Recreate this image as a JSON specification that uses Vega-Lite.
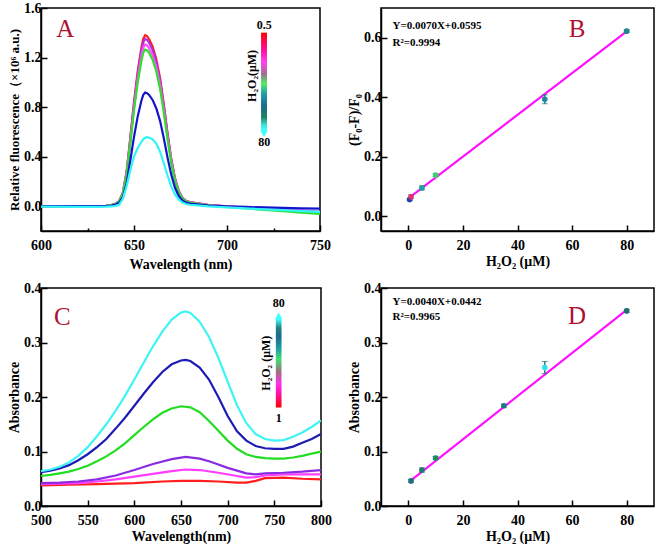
{
"$schema": "https://vega.github.io/schema/vega-lite/v6.json",
"background": "white",
"padding": {"left": 6, "top": 0, "right": 2, "bottom": 0},
"bounds": "flush",
"columns": 2,
"align": "each",
"spacing": {"row": 57, "column": 60},
"resolve": {"scale": {"color": "independent"}},
"config": {
  "font": "Liberation Serif",
  "view": {"stroke": "#000", "strokeWidth": 1.5},
  "axis": {"labelFont": "Liberation Serif", "labelFontWeight": "bold", "labelFontSize": 14, "labelColor": "#000",
           "titleFont": "Liberation Serif", "titleFontWeight": "bold", "titleFontSize": 14, "titleColor": "#000",
           "domainColor": "#000", "domainWidth": 1.5, "tickColor": "#000", "tickWidth": 1.5, "grid": false,
           "labelPadding": 4, "labelFlush": false, "labelOverlap": false, "titlePadding": 2},
  "axisX": {"labelPadding": 13},
  "axisY": {"labelPadding": 6}
},
"datasets": {
  "A": [
{"s":"a1","x":600,"y":0},{"s":"a1","x":620,"y":0},{"s":"a1","x":630,"y":0.001},{"s":"a1","x":635,"y":0.004},{"s":"a1","x":638,"y":0.01},{"s":"a1","x":640,"y":0.019},{"s":"a1","x":642,"y":0.041},{"s":"a1","x":644,"y":0.11},{"s":"a1","x":646,"y":0.276},{"s":"a1","x":648,"y":0.552},{"s":"a1","x":650,"y":0.842},{"s":"a1","x":652,"y":1.09},{"s":"a1","x":654,"y":1.283},{"s":"a1","x":655,"y":1.352},{"s":"a1","x":656,"y":1.38},{"s":"a1","x":657,"y":1.373},{"s":"a1","x":658,"y":1.352},{"s":"a1","x":660,"y":1.29},{"s":"a1","x":662,"y":1.187},{"s":"a1","x":664,"y":1.035},{"s":"a1","x":666,"y":0.828},{"s":"a1","x":668,"y":0.593},{"s":"a1","x":670,"y":0.386},{"s":"a1","x":672,"y":0.228},{"s":"a1","x":674,"y":0.124},{"s":"a1","x":676,"y":0.069},{"s":"a1","x":678,"y":0.044},{"s":"a1","x":680,"y":0.033},{"s":"a1","x":690,"y":0.012},{"s":"a1","x":700,"y":0},{"s":"a1","x":710,"y":-0.012},{"s":"a1","x":720,"y":-0.022},{"s":"a1","x":730,"y":-0.033},{"s":"a1","x":740,"y":-0.044},{"s":"a1","x":750,"y":-0.055},
{"s":"a2","x":600,"y":0},{"s":"a2","x":620,"y":0},{"s":"a2","x":630,"y":0.001},{"s":"a2","x":635,"y":0.004},{"s":"a2","x":638,"y":0.009},{"s":"a2","x":640,"y":0.019},{"s":"a2","x":642,"y":0.041},{"s":"a2","x":644,"y":0.108},{"s":"a2","x":646,"y":0.27},{"s":"a2","x":648,"y":0.54},{"s":"a2","x":650,"y":0.824},{"s":"a2","x":652,"y":1.067},{"s":"a2","x":654,"y":1.256},{"s":"a2","x":655,"y":1.323},{"s":"a2","x":656,"y":1.35},{"s":"a2","x":657,"y":1.343},{"s":"a2","x":658,"y":1.323},{"s":"a2","x":660,"y":1.262},{"s":"a2","x":662,"y":1.161},{"s":"a2","x":664,"y":1.013},{"s":"a2","x":666,"y":0.81},{"s":"a2","x":668,"y":0.581},{"s":"a2","x":670,"y":0.378},{"s":"a2","x":672,"y":0.223},{"s":"a2","x":674,"y":0.122},{"s":"a2","x":676,"y":0.068},{"s":"a2","x":678,"y":0.043},{"s":"a2","x":680,"y":0.032},{"s":"a2","x":690,"y":0.01},{"s":"a2","x":700,"y":-0.002},{"s":"a2","x":710,"y":-0.012},{"s":"a2","x":720,"y":-0.02},{"s":"a2","x":730,"y":-0.028},{"s":"a2","x":740,"y":-0.036},{"s":"a2","x":750,"y":-0.045},
{"s":"a3","x":600,"y":0},{"s":"a3","x":620,"y":0},{"s":"a3","x":630,"y":0.001},{"s":"a3","x":635,"y":0.004},{"s":"a3","x":638,"y":0.009},{"s":"a3","x":640,"y":0.018},{"s":"a3","x":642,"y":0.039},{"s":"a3","x":644,"y":0.104},{"s":"a3","x":646,"y":0.261},{"s":"a3","x":648,"y":0.522},{"s":"a3","x":650,"y":0.796},{"s":"a3","x":652,"y":1.031},{"s":"a3","x":654,"y":1.214},{"s":"a3","x":655,"y":1.279},{"s":"a3","x":656,"y":1.305},{"s":"a3","x":657,"y":1.298},{"s":"a3","x":658,"y":1.279},{"s":"a3","x":660,"y":1.22},{"s":"a3","x":662,"y":1.122},{"s":"a3","x":664,"y":0.979},{"s":"a3","x":666,"y":0.783},{"s":"a3","x":668,"y":0.561},{"s":"a3","x":670,"y":0.365},{"s":"a3","x":672,"y":0.215},{"s":"a3","x":674,"y":0.117},{"s":"a3","x":676,"y":0.065},{"s":"a3","x":678,"y":0.042},{"s":"a3","x":680,"y":0.031},{"s":"a3","x":690,"y":0.01},{"s":"a3","x":700,"y":-0.002},{"s":"a3","x":710,"y":-0.013},{"s":"a3","x":720,"y":-0.022},{"s":"a3","x":730,"y":-0.031},{"s":"a3","x":740,"y":-0.04},{"s":"a3","x":750,"y":-0.05},
{"s":"a4","x":600,"y":0},{"s":"a4","x":620,"y":0},{"s":"a4","x":630,"y":0.001},{"s":"a4","x":635,"y":0.004},{"s":"a4","x":638,"y":0.009},{"s":"a4","x":640,"y":0.018},{"s":"a4","x":642,"y":0.038},{"s":"a4","x":644,"y":0.101},{"s":"a4","x":646,"y":0.253},{"s":"a4","x":648,"y":0.506},{"s":"a4","x":650,"y":0.772},{"s":"a4","x":652,"y":0.999},{"s":"a4","x":654,"y":1.176},{"s":"a4","x":655,"y":1.24},{"s":"a4","x":656,"y":1.265},{"s":"a4","x":657,"y":1.259},{"s":"a4","x":658,"y":1.24},{"s":"a4","x":660,"y":1.183},{"s":"a4","x":662,"y":1.088},{"s":"a4","x":664,"y":0.949},{"s":"a4","x":666,"y":0.759},{"s":"a4","x":668,"y":0.544},{"s":"a4","x":670,"y":0.354},{"s":"a4","x":672,"y":0.209},{"s":"a4","x":674,"y":0.114},{"s":"a4","x":676,"y":0.063},{"s":"a4","x":678,"y":0.04},{"s":"a4","x":680,"y":0.03},{"s":"a4","x":690,"y":0.008},{"s":"a4","x":700,"y":-0.006},{"s":"a4","x":710,"y":-0.018},{"s":"a4","x":720,"y":-0.029},{"s":"a4","x":730,"y":-0.04},{"s":"a4","x":740,"y":-0.051},{"s":"a4","x":750,"y":-0.062},
{"s":"a5","x":600,"y":0},{"s":"a5","x":620,"y":0},{"s":"a5","x":630,"y":0.001},{"s":"a5","x":635,"y":0.003},{"s":"a5","x":638,"y":0.006},{"s":"a5","x":640,"y":0.013},{"s":"a5","x":642,"y":0.028},{"s":"a5","x":644,"y":0.073},{"s":"a5","x":646,"y":0.184},{"s":"a5","x":648,"y":0.367},{"s":"a5","x":650,"y":0.56},{"s":"a5","x":652,"y":0.725},{"s":"a5","x":654,"y":0.854},{"s":"a5","x":655,"y":0.9},{"s":"a5","x":656,"y":0.918},{"s":"a5","x":657,"y":0.913},{"s":"a5","x":658,"y":0.9},{"s":"a5","x":660,"y":0.858},{"s":"a5","x":662,"y":0.789},{"s":"a5","x":664,"y":0.689},{"s":"a5","x":666,"y":0.551},{"s":"a5","x":668,"y":0.395},{"s":"a5","x":670,"y":0.257},{"s":"a5","x":672,"y":0.151},{"s":"a5","x":674,"y":0.083},{"s":"a5","x":676,"y":0.046},{"s":"a5","x":678,"y":0.029},{"s":"a5","x":680,"y":0.022},{"s":"a5","x":690,"y":0.006},{"s":"a5","x":700,"y":-0.002},{"s":"a5","x":710,"y":-0.006},{"s":"a5","x":720,"y":-0.01},{"s":"a5","x":730,"y":-0.013},{"s":"a5","x":740,"y":-0.017},{"s":"a5","x":750,"y":-0.02},
{"s":"a6","x":600,"y":-0.004},{"s":"a6","x":620,"y":-0.005},{"s":"a6","x":630,"y":-0.005},{"s":"a6","x":635,"y":-0.004},{"s":"a6","x":638,"y":-0.002},{"s":"a6","x":640,"y":0.003},{"s":"a6","x":642,"y":0.012},{"s":"a6","x":644,"y":0.06},{"s":"a6","x":646,"y":0.16},{"s":"a6","x":648,"y":0.29},{"s":"a6","x":650,"y":0.4},{"s":"a6","x":652,"y":0.47},{"s":"a6","x":654,"y":0.52},{"s":"a6","x":655,"y":0.54},{"s":"a6","x":656,"y":0.553},{"s":"a6","x":657,"y":0.557},{"s":"a6","x":658,"y":0.555},{"s":"a6","x":660,"y":0.54},{"s":"a6","x":662,"y":0.505},{"s":"a6","x":664,"y":0.44},{"s":"a6","x":666,"y":0.35},{"s":"a6","x":668,"y":0.25},{"s":"a6","x":670,"y":0.16},{"s":"a6","x":672,"y":0.095},{"s":"a6","x":674,"y":0.055},{"s":"a6","x":676,"y":0.03},{"s":"a6","x":678,"y":0.018},{"s":"a6","x":680,"y":0.012},{"s":"a6","x":690,"y":-0.002},{"s":"a6","x":700,"y":-0.01},{"s":"a6","x":710,"y":-0.018},{"s":"a6","x":720,"y":-0.025},{"s":"a6","x":730,"y":-0.032},{"s":"a6","x":740,"y":-0.039},{"s":"a6","x":750,"y":-0.046}
  ],
  "C": [
{"s":"c1","x":500,"y":0.038},{"s":"c1","x":530,"y":0.039},{"s":"c1","x":560,"y":0.04},{"s":"c1","x":600,"y":0.042},{"s":"c1","x":630,"y":0.045},{"s":"c1","x":650,"y":0.046},{"s":"c1","x":670,"y":0.046},{"s":"c1","x":690,"y":0.045},{"s":"c1","x":710,"y":0.043},{"s":"c1","x":720,"y":0.043},{"s":"c1","x":730,"y":0.046},{"s":"c1","x":740,"y":0.051},{"s":"c1","x":760,"y":0.052},{"s":"c1","x":780,"y":0.05},{"s":"c1","x":800,"y":0.049},
{"s":"c2","x":500,"y":0.04},{"s":"c2","x":520,"y":0.041},{"s":"c2","x":540,"y":0.042},{"s":"c2","x":560,"y":0.045},{"s":"c2","x":580,"y":0.049},{"s":"c2","x":600,"y":0.054},{"s":"c2","x":620,"y":0.059},{"s":"c2","x":640,"y":0.064},{"s":"c2","x":655,"y":0.067},{"s":"c2","x":670,"y":0.066},{"s":"c2","x":690,"y":0.061},{"s":"c2","x":710,"y":0.055},{"s":"c2","x":720,"y":0.052},{"s":"c2","x":730,"y":0.053},{"s":"c2","x":740,"y":0.056},{"s":"c2","x":760,"y":0.058},{"s":"c2","x":780,"y":0.058},{"s":"c2","x":800,"y":0.058},
{"s":"c3","x":500,"y":0.042},{"s":"c3","x":520,"y":0.043},{"s":"c3","x":540,"y":0.045},{"s":"c3","x":560,"y":0.049},{"s":"c3","x":580,"y":0.056},{"s":"c3","x":600,"y":0.066},{"s":"c3","x":620,"y":0.077},{"s":"c3","x":640,"y":0.086},{"s":"c3","x":655,"y":0.09},{"s":"c3","x":670,"y":0.087},{"s":"c3","x":680,"y":0.082},{"s":"c3","x":690,"y":0.076},{"s":"c3","x":700,"y":0.07},{"s":"c3","x":710,"y":0.065},{"s":"c3","x":720,"y":0.06},{"s":"c3","x":730,"y":0.058},{"s":"c3","x":740,"y":0.06},{"s":"c3","x":760,"y":0.061},{"s":"c3","x":780,"y":0.063},{"s":"c3","x":800,"y":0.066},
{"s":"c4","x":500,"y":0.055},{"s":"c4","x":510,"y":0.057},{"s":"c4","x":520,"y":0.06},{"s":"c4","x":530,"y":0.063},{"s":"c4","x":540,"y":0.068},{"s":"c4","x":550,"y":0.074},{"s":"c4","x":560,"y":0.082},{"s":"c4","x":570,"y":0.091},{"s":"c4","x":580,"y":0.102},{"s":"c4","x":590,"y":0.115},{"s":"c4","x":600,"y":0.13},{"s":"c4","x":610,"y":0.145},{"s":"c4","x":620,"y":0.159},{"s":"c4","x":630,"y":0.171},{"s":"c4","x":640,"y":0.179},{"s":"c4","x":650,"y":0.183},{"s":"c4","x":660,"y":0.181},{"s":"c4","x":670,"y":0.172},{"s":"c4","x":680,"y":0.156},{"s":"c4","x":690,"y":0.138},{"s":"c4","x":700,"y":0.12},{"s":"c4","x":710,"y":0.105},{"s":"c4","x":720,"y":0.095},{"s":"c4","x":730,"y":0.09},{"s":"c4","x":740,"y":0.088},{"s":"c4","x":750,"y":0.087},{"s":"c4","x":760,"y":0.087},{"s":"c4","x":770,"y":0.089},{"s":"c4","x":780,"y":0.092},{"s":"c4","x":790,"y":0.096},{"s":"c4","x":800,"y":0.1},
{"s":"c5","x":500,"y":0.062},{"s":"c5","x":510,"y":0.065},{"s":"c5","x":520,"y":0.069},{"s":"c5","x":530,"y":0.075},{"s":"c5","x":540,"y":0.084},{"s":"c5","x":550,"y":0.095},{"s":"c5","x":560,"y":0.108},{"s":"c5","x":570,"y":0.123},{"s":"c5","x":580,"y":0.142},{"s":"c5","x":590,"y":0.162},{"s":"c5","x":600,"y":0.184},{"s":"c5","x":610,"y":0.206},{"s":"c5","x":620,"y":0.227},{"s":"c5","x":630,"y":0.246},{"s":"c5","x":640,"y":0.26},{"s":"c5","x":650,"y":0.267},{"s":"c5","x":655,"y":0.268},{"s":"c5","x":660,"y":0.266},{"s":"c5","x":670,"y":0.254},{"s":"c5","x":680,"y":0.232},{"s":"c5","x":690,"y":0.2},{"s":"c5","x":700,"y":0.165},{"s":"c5","x":710,"y":0.137},{"s":"c5","x":720,"y":0.12},{"s":"c5","x":730,"y":0.11},{"s":"c5","x":740,"y":0.106},{"s":"c5","x":750,"y":0.105},{"s":"c5","x":760,"y":0.105},{"s":"c5","x":770,"y":0.109},{"s":"c5","x":780,"y":0.116},{"s":"c5","x":790,"y":0.123},{"s":"c5","x":800,"y":0.132},
{"s":"c6","x":500,"y":0.064},{"s":"c6","x":510,"y":0.067},{"s":"c6","x":520,"y":0.072},{"s":"c6","x":530,"y":0.08},{"s":"c6","x":540,"y":0.092},{"s":"c6","x":550,"y":0.108},{"s":"c6","x":560,"y":0.128},{"s":"c6","x":570,"y":0.15},{"s":"c6","x":580,"y":0.175},{"s":"c6","x":590,"y":0.202},{"s":"c6","x":600,"y":0.232},{"s":"c6","x":610,"y":0.263},{"s":"c6","x":620,"y":0.293},{"s":"c6","x":630,"y":0.32},{"s":"c6","x":640,"y":0.342},{"s":"c6","x":650,"y":0.355},{"s":"c6","x":655,"y":0.357},{"s":"c6","x":660,"y":0.354},{"s":"c6","x":670,"y":0.338},{"s":"c6","x":680,"y":0.31},{"s":"c6","x":690,"y":0.272},{"s":"c6","x":700,"y":0.228},{"s":"c6","x":710,"y":0.185},{"s":"c6","x":720,"y":0.152},{"s":"c6","x":730,"y":0.132},{"s":"c6","x":740,"y":0.123},{"s":"c6","x":750,"y":0.12},{"s":"c6","x":760,"y":0.121},{"s":"c6","x":770,"y":0.127},{"s":"c6","x":780,"y":0.135},{"s":"c6","x":790,"y":0.145},{"s":"c6","x":800,"y":0.157}
  ],
  "B": [
{"k":"0.5","x":0.5,"y":0.056,"lo":0.052,"hi":0.060},
{"k":"1","x":1,"y":0.065,"lo":0.059,"hi":0.072},
{"k":"5","x":5,"y":0.095,"lo":0.088,"hi":0.102},
{"k":"10","x":10,"y":0.138,"lo":0.133,"hi":0.143},
{"k":"50","x":50,"y":0.393,"lo":0.378,"hi":0.408},
{"k":"80","x":80,"y":0.622,"lo":0.618,"hi":0.627}
  ],
  "BF": [{"x":0.5,"y":0.063},{"x":80,"y":0.6215}],
  "D": [
{"k":"1","x":1,"y":0.046,"lo":0.043,"hi":0.049},
{"k":"5","x":5,"y":0.066,"lo":0.062,"hi":0.070},
{"k":"10","x":10,"y":0.088,"lo":0.085,"hi":0.091},
{"k":"35","x":35,"y":0.184,"lo":0.181,"hi":0.187},
{"k":"50","x":50,"y":0.254,"lo":0.243,"hi":0.265},
{"k":"80","x":80,"y":0.358,"lo":0.355,"hi":0.361}
  ],
  "DF": [{"x":1,"y":0.047},{"x":80,"y":0.36}]
},
"concat": [
  {"width": 279, "height": 223,
   "layer": [
    {"data": {"name": "A"}, "mark": {"type": "line", "strokeWidth": 2.2, "clip": true},
     "encoding": {
      "x": {"field": "x", "type": "quantitative", "scale": {"domain": [600, 750], "nice": false},
            "axis": {"title": "Wavelength (nm)", "values": [600,625,650,675,700,725,750],
                     "labelExpr": "datum.value % 50 == 0 ? datum.label : ''",
                     "tickSize": {"condition": {"test": "datum.value % 50 == 0", "value": -6}, "value": -3}}},
      "y": {"field": "y", "type": "quantitative", "scale": {"domain": [-0.2, 1.6], "nice": false},
            "axis": {"title": "Relative fluorescence（×10⁶ a.u.)", "titleFontSize": 13, "format": ".1f",
                     "values": [0,0.2,0.4,0.6,0.8,1.0,1.2,1.4,1.6],
                     "labelExpr": "round(datum.value*10) % 4 == 0 ? datum.label : ''",
                     "tickSize": {"condition": {"test": "round(datum.value*10) % 4 == 0", "value": -6}, "value": -3}}},
      "color": {"field": "s", "type": "nominal", "legend": null,
                "scale": {"domain": ["a1","a2","a3","a4","a5","a6"], "range": ["#ff1e1e","#b02ee6","#ff50ff","#2ee02e","#1414c8","#30f6f6"]}}
     }},
    {"data": {"values": [{}]},
     "mark": {"type": "rect", "fill": {"gradient": "linear", "x1": 0, "y1": 0, "x2": 0, "y2": 1,
       "stops": [{"offset": 0, "color": "#ff0000"}, {"offset": 0.18, "color": "#ff10a0"}, {"offset": 0.3, "color": "#ff40f0"},
                 {"offset": 0.42, "color": "#a07090"}, {"offset": 0.52, "color": "#50ee60"}, {"offset": 0.62, "color": "#20a0a8"},
                 {"offset": 0.75, "color": "#1a6a90"}, {"offset": 0.86, "color": "#208060"}, {"offset": 0.95, "color": "#40e8e8"},
                 {"offset": 1, "color": "#40ffff"}]}},
     "encoding": {"x": {"datum": 718.3, "type": "quantitative"}, "x2": {"datum": 721.5},
                  "y": {"datum": 1.401, "type": "quantitative"}, "y2": {"datum": 0.609}}},
    {"data": {"values": [{}]},
     "mark": {"type": "point", "shape": "triangle-down", "filled": true, "opacity": 1, "size": 60, "color": "#40ffff"},
     "encoding": {"x": {"datum": 719.9, "type": "quantitative"}, "y": {"datum": 0.585, "type": "quantitative"}}},
    {"data": {"values": [{}]},
     "mark": {"type": "text", "text": "0.5", "font": "Liberation Serif", "fontWeight": "bold", "fontSize": 12},
     "encoding": {"x": {"datum": 720, "type": "quantitative"}, "y": {"datum": 1.463, "type": "quantitative"}}},
    {"data": {"values": [{}]},
     "mark": {"type": "text", "text": "80", "font": "Liberation Serif", "fontWeight": "bold", "fontSize": 12},
     "encoding": {"x": {"datum": 720, "type": "quantitative"}, "y": {"datum": 0.515, "type": "quantitative"}}},
    {"data": {"values": [{}]},
     "mark": {"type": "text", "text": "H₂O₂(μM)", "angle": 270, "font": "Liberation Serif", "fontWeight": "bold", "fontSize": 12},
     "encoding": {"x": {"datum": 713.6, "type": "quantitative"}, "y": {"datum": 1.052, "type": "quantitative"}}},
    {"data": {"values": [{}]},
     "mark": {"type": "text", "text": "A", "font": "Liberation Serif", "fontSize": 25, "color": "#b01030"},
     "encoding": {"x": {"datum": 613, "type": "quantitative"}, "y": {"datum": 1.43, "type": "quantitative"}}}
   ]},
  {"width": 273, "height": 223,
   "layer": [
    {"data": {"name": "BF"}, "mark": {"type": "line", "strokeWidth": 2.2, "color": "#ff10ff"},
     "encoding": {
      "x": {"field": "x", "type": "quantitative", "scale": {"domain": [-10, 90], "nice": false},
            "axis": {"title": "H₂O₂ (μM)", "values": [0,10,20,30,40,50,60,70,80],
                     "labelExpr": "datum.value % 20 == 0 ? datum.label : ''",
                     "tickSize": {"condition": {"test": "datum.value % 20 == 0", "value": -6}, "value": -3}}},
      "y": {"field": "y", "type": "quantitative", "title": "(F₀-F)/F₀", "scale": {"domain": [-0.05, 0.7], "nice": false},
            "axis": {"format": ".1f", "values": [0,0.1,0.2,0.3,0.4,0.5,0.6],
                     "labelExpr": "round(datum.value*10) % 2 == 0 ? datum.label : ''",
                     "tickSize": {"condition": {"test": "round(datum.value*10) % 2 == 0", "value": -6}, "value": -3}}}
     }},
    {"data": {"name": "B"}, "mark": {"type": "errorbar", "ticks": {"size": 6}, "rule": {"strokeWidth": 1.4}, "color": "#1f7080"},
     "encoding": {"x": {"field": "x", "type": "quantitative", "title": "H₂O₂ (μM)"}, "y": {"field": "lo", "type": "quantitative", "title": "(F₀-F)/F₀"}, "y2": {"field": "hi"}}},
    {"data": {"name": "B"}, "mark": {"type": "point", "filled": true, "opacity": 1, "size": 32},
     "encoding": {"x": {"field": "x", "type": "quantitative", "title": "H₂O₂ (μM)"}, "y": {"field": "y", "type": "quantitative", "title": "(F₀-F)/F₀"},
                  "color": {"field": "k", "type": "nominal", "legend": null,
                            "scale": {"domain": ["0.5","1","5","10","50","80"], "range": ["#2040b0","#e03070","#20a0a0","#40d070","#208aa0","#208888"]}}}},
    {"data": {"values": [{}]},
     "mark": {"type": "text", "text": "Y=0.0070X+0.0595", "align": "left", "font": "Liberation Serif", "fontWeight": "bold", "fontSize": 11},
     "encoding": {"x": {"datum": -5.8, "type": "quantitative"}, "y": {"datum": 0.64, "type": "quantitative"}}},
    {"data": {"values": [{}]},
     "mark": {"type": "text", "text": "R²=0.9994", "align": "left", "font": "Liberation Serif", "fontWeight": "bold", "fontSize": 11},
     "encoding": {"x": {"datum": -5.8, "type": "quantitative"}, "y": {"datum": 0.583, "type": "quantitative"}}},
    {"data": {"values": [{}]},
     "mark": {"type": "text", "text": "B", "font": "Liberation Serif", "fontSize": 25, "color": "#b01030"},
     "encoding": {"x": {"datum": 61.8, "type": "quantitative"}, "y": {"datum": 0.631, "type": "quantitative"}}}
   ]},
  {"width": 280, "height": 218,
   "layer": [
    {"data": {"name": "C"}, "mark": {"type": "line", "strokeWidth": 2.2, "clip": true},
     "encoding": {
      "x": {"field": "x", "type": "quantitative", "scale": {"domain": [500, 800], "nice": false},
            "axis": {"title": "Wavelength(nm)", "values": [500,525,550,575,600,625,650,675,700,725,750,775,800],
                     "labelExpr": "datum.value % 50 == 0 ? datum.label : ''",
                     "tickSize": {"condition": {"test": "datum.value % 50 == 0", "value": -6}, "value": -3}}},
      "y": {"field": "y", "type": "quantitative", "scale": {"domain": [0, 0.4], "nice": false},
            "axis": {"title": "Absorbance", "format": ".1f", "values": [0,0.05,0.1,0.15,0.2,0.25,0.3,0.35,0.4],
                     "labelExpr": "round(datum.value*100) % 10 == 0 ? datum.label : ''",
                     "tickSize": {"condition": {"test": "round(datum.value*100) % 10 == 0", "value": -6}, "value": -3}}},
      "color": {"field": "s", "type": "nominal", "legend": null,
                "scale": {"domain": ["c1","c2","c3","c4","c5","c6"], "range": ["#ff1e1e","#ff3cff","#8a2be2","#22dd22","#1c1cb4","#40f4f4"]}}
     }},
    {"data": {"values": [{}]},
     "mark": {"type": "rect", "fill": {"gradient": "linear", "x1": 0, "y1": 1, "x2": 0, "y2": 0,
       "stops": [{"offset": 0, "color": "#ff0000"}, {"offset": 0.15, "color": "#ff10a0"}, {"offset": 0.27, "color": "#ff30f0"},
                 {"offset": 0.4, "color": "#a07080"}, {"offset": 0.55, "color": "#40e070"}, {"offset": 0.66, "color": "#20a0a0"},
                 {"offset": 0.8, "color": "#1a6a90"}, {"offset": 0.9, "color": "#208080"}, {"offset": 1, "color": "#40ffff"}]}},
     "encoding": {"x": {"datum": 751.6, "type": "quantitative"}, "x2": {"datum": 757.7},
                  "y": {"datum": 0.343, "type": "quantitative"}, "y2": {"datum": 0.1807}}},
    {"data": {"values": [{}]},
     "mark": {"type": "point", "shape": "triangle-up", "filled": true, "opacity": 1, "size": 60, "color": "#40ffff"},
     "encoding": {"x": {"datum": 754.6, "type": "quantitative"}, "y": {"datum": 0.349, "type": "quantitative"}}},
    {"data": {"values": [{}]},
     "mark": {"type": "text", "text": "80", "font": "Liberation Serif", "fontWeight": "bold", "fontSize": 12},
     "encoding": {"x": {"datum": 754.6, "type": "quantitative"}, "y": {"datum": 0.372, "type": "quantitative"}}},
    {"data": {"values": [{}]},
     "mark": {"type": "text", "text": "1", "font": "Liberation Serif", "fontWeight": "bold", "fontSize": 12},
     "encoding": {"x": {"datum": 754.6, "type": "quantitative"}, "y": {"datum": 0.162, "type": "quantitative"}}},
    {"data": {"values": [{}]},
     "mark": {"type": "text", "text": "H₂O₂ (μM)", "angle": 270, "font": "Liberation Serif", "fontWeight": "bold", "fontSize": 12},
     "encoding": {"x": {"datum": 741.6, "type": "quantitative"}, "y": {"datum": 0.262, "type": "quantitative"}}},
    {"data": {"values": [{}]},
     "mark": {"type": "text", "text": "C", "font": "Liberation Serif", "fontSize": 25, "color": "#b01030"},
     "encoding": {"x": {"datum": 523, "type": "quantitative"}, "y": {"datum": 0.346, "type": "quantitative"}}}
   ]},
  {"width": 273, "height": 218,
   "layer": [
    {"data": {"name": "DF"}, "mark": {"type": "line", "strokeWidth": 2.2, "color": "#ff10ff"},
     "encoding": {
      "x": {"field": "x", "type": "quantitative", "scale": {"domain": [-10, 90], "nice": false},
            "axis": {"title": "H₂O₂ (μM)", "values": [0,10,20,30,40,50,60,70,80],
                     "labelExpr": "datum.value % 20 == 0 ? datum.label : ''",
                     "tickSize": {"condition": {"test": "datum.value % 20 == 0", "value": -6}, "value": -3}}},
      "y": {"field": "y", "type": "quantitative", "title": "Absorbance", "scale": {"domain": [0, 0.4], "nice": false},
            "axis": {"format": ".1f", "values": [0,0.05,0.1,0.15,0.2,0.25,0.3,0.35,0.4],
                     "labelExpr": "round(datum.value*100) % 10 == 0 ? datum.label : ''",
                     "tickSize": {"condition": {"test": "round(datum.value*100) % 10 == 0", "value": -6}, "value": -3}}}
     }},
    {"data": {"name": "D"}, "mark": {"type": "errorbar", "ticks": {"size": 6}, "rule": {"strokeWidth": 1.4}, "color": "#1f7080"},
     "encoding": {"x": {"field": "x", "type": "quantitative", "title": "H₂O₂ (μM)"}, "y": {"field": "lo", "type": "quantitative", "title": "Absorbance"}, "y2": {"field": "hi"}}},
    {"data": {"name": "D"}, "mark": {"type": "point", "filled": true, "opacity": 1, "size": 32},
     "encoding": {"x": {"field": "x", "type": "quantitative", "title": "H₂O₂ (μM)"}, "y": {"field": "y", "type": "quantitative", "title": "Absorbance"},
                  "color": {"field": "k", "type": "nominal", "legend": null,
                            "scale": {"domain": ["1","5","10","35","50","80"], "range": ["#1f6f80","#1f7a70","#208a60","#1f7a80","#30e0e8","#1f7070"]}}}},
    {"data": {"values": [{}]},
     "mark": {"type": "text", "text": "Y=0.0040X+0.0442", "align": "left", "font": "Liberation Serif", "fontWeight": "bold", "fontSize": 11},
     "encoding": {"x": {"datum": -5.8, "type": "quantitative"}, "y": {"datum": 0.374, "type": "quantitative"}}},
    {"data": {"values": [{}]},
     "mark": {"type": "text", "text": "R²=0.9965", "align": "left", "font": "Liberation Serif", "fontWeight": "bold", "fontSize": 11},
     "encoding": {"x": {"datum": -5.8, "type": "quantitative"}, "y": {"datum": 0.346, "type": "quantitative"}}},
    {"data": {"values": [{}]},
     "mark": {"type": "text", "text": "D", "font": "Liberation Serif", "fontSize": 25, "color": "#b01030"},
     "encoding": {"x": {"datum": 61.8, "type": "quantitative"}, "y": {"datum": 0.349, "type": "quantitative"}}}
   ]}
]
}
